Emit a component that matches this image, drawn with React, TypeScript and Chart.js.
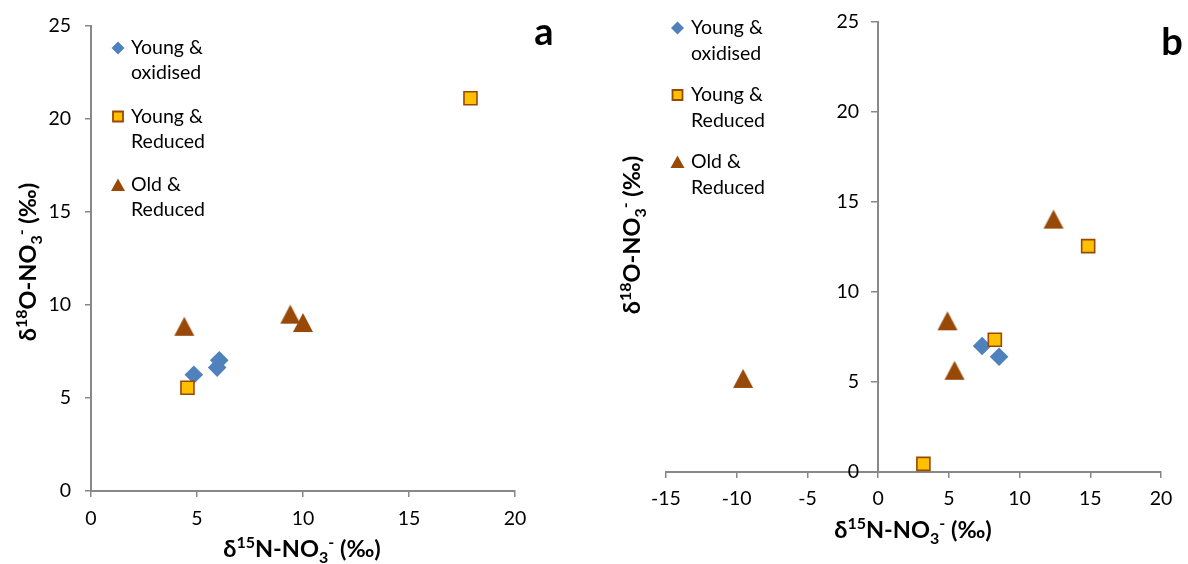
import React, { useEffect, useRef } from 'react';
import { Chart, registerables } from 'chart.js';

Chart.register(...registerables);

// Series names (two-line legend entries)
const SERIES_NAMES: string[][] = [
  ['Young &', 'oxidised'],
  ['Young &', 'Reduced'],
  ['Old &', 'Reduced'],
];

// Panel a: δ15N (x) and δ18O (y) per group
const aOxidisedX = [4.85, 5.95, 6.05];
const aOxidisedY = [6.25, 6.63, 7.02];
const aYoungReducedX = [4.55, 17.9];
const aYoungReducedY = [5.55, 21.1];
const aOldReducedX = [4.4, 9.4, 10.0];
const aOldReducedY = [8.85, 9.5, 9.05];

// Panel b
const bOxidisedX = [7.35, 8.55];
const bOxidisedY = [7.0, 6.4];
const bYoungReducedX = [8.25, 14.85, 3.2];
const bYoungReducedY = [7.35, 12.55, 0.45];
const bOldReducedX = [-9.55, 4.9, 5.4, 12.4];
const bOldReducedY = [5.2, 8.4, 5.65, 14.05];

// Axis ticks
const aXTicks = [0, 5, 10, 15, 20];
const bXTicks = [-15, -10, -5, 0, 5, 10, 15, 20];
const yTicks = [0, 5, 10, 15, 20, 25];

const BLUE = '#4F81BD';
const GOLD = '#FFC000';
const BROWN = '#984807';
const AXIS = '#888888';
const FONT = 'Lato, "Open Sans", sans-serif';
const TICK_SIZE = 19.5;
const LEGEND_SIZE = 19.5;
const TITLE_SIZE = 23.5;

type Part = { t: string; s?: 'sup' | 'sub' };
const X_TITLE: Part[] = [
  { t: 'δ' }, { t: '15', s: 'sup' }, { t: 'N-NO' }, { t: '3', s: 'sub' }, { t: '-', s: 'sup' }, { t: ' (‰)' },
];
const Y_TITLE: Part[] = [
  { t: 'δ' }, { t: '18', s: 'sup' }, { t: 'O-NO' }, { t: '3', s: 'sub' }, { t: '-', s: 'sup' }, { t: ' (‰)' },
];

const zip = (xs: number[], ys: number[]) => xs.map((x, i) => ({ x, y: ys[i] }));

// Triangle marker image, centred on its bounding box
function makeTriangle(w: number, h: number, color: string): HTMLCanvasElement {
  const c = document.createElement('canvas');
  c.width = w + 2;
  c.height = h + 2;
  const g = c.getContext('2d')!;
  g.fillStyle = color;
  g.beginPath();
  g.moveTo(1 + w / 2, 1);
  g.lineTo(1 + w, 1 + h);
  g.lineTo(1, 1 + h);
  g.closePath();
  g.fill();
  return c;
}

function drawRich(ctx: CanvasRenderingContext2D, parts: Part[], cx: number, cy: number, vertical: boolean, size: number) {
  ctx.save();
  ctx.translate(cx, cy);
  if (vertical) ctx.rotate(-Math.PI / 2);
  const fontFor = (p: Part) => `bold ${p.s ? Math.round(size * 0.66) : size}px ${FONT}`;
  const widths = parts.map((p) => {
    ctx.font = fontFor(p);
    return ctx.measureText(p.t).width;
  });
  const total = widths.reduce((a, b) => a + b, 0);
  let x = -total / 2;
  const base = size * 0.36;
  ctx.fillStyle = '#000';
  ctx.textAlign = 'left';
  ctx.textBaseline = 'alphabetic';
  parts.forEach((p, i) => {
    ctx.font = fontFor(p);
    const dy = p.s === 'sup' ? -size * 0.4 : p.s === 'sub' ? size * 0.22 : 0;
    ctx.fillText(p.t, x, base + dy);
    x += widths[i];
  });
  ctx.restore();
}

function drawLegendMarker(ctx: CanvasRenderingContext2D, kind: number, x: number, y: number) {
  ctx.save();
  ctx.beginPath();
  if (kind === 0) {
    const r = 6.5;
    ctx.moveTo(x - r, y);
    ctx.lineTo(x, y - r);
    ctx.lineTo(x + r, y);
    ctx.lineTo(x, y + r);
    ctx.closePath();
    ctx.fillStyle = BLUE;
    ctx.fill();
  } else if (kind === 1) {
    ctx.rect(x - 5, y - 5, 10, 10);
    ctx.fillStyle = GOLD;
    ctx.fill();
    ctx.strokeStyle = BROWN;
    ctx.lineWidth = 1.8;
    ctx.stroke();
  } else {
    ctx.moveTo(x, y - 6.5);
    ctx.lineTo(x + 7, y + 6);
    ctx.lineTo(x - 7, y + 6);
    ctx.closePath();
    ctx.fillStyle = BROWN;
    ctx.fill();
  }
  ctx.restore();
}

type PanelSpec = {
  letter: string;
  letterPos: [number, number];
  oxidised: { x: number; y: number }[];
  youngReduced: { x: number; y: number }[];
  oldReduced: { x: number; y: number }[];
  xTicks: number[];
  padding: { left: number; right: number; top: number; bottom: number };
  yWidth: number | null;
  xHeight: number;
  yAxisAtZero: boolean;
  xLabelPad: number;
  legend: { markerX: number; textX: number; y0: number; step: number; lineH: number };
  xTitlePos: [number, number];
  yTitlePos: [number, number];
};

function Panel({ spec }: { spec: PanelSpec }) {
  const ref = useRef<HTMLCanvasElement | null>(null);

  useEffect(() => {
    const canvas = ref.current;
    if (!canvas) return;
    const tri = makeTriangle(20, 19, BROWN);

    const decor = {
      id: 'decor',
      afterDraw(chart: Chart) {
        const ctx = chart.ctx;
        // y tick labels beside an axis that sits at x = 0
        if (spec.yAxisAtZero) {
          const ys = chart.scales.y;
          const x0 = chart.scales.x.getPixelForValue(0);
          ctx.save();
          ctx.font = `${TICK_SIZE}px ${FONT}`;
          ctx.fillStyle = '#000';
          ctx.textAlign = 'right';
          ctx.textBaseline = 'middle';
          ys.ticks.forEach((t) => ctx.fillText(String(t.value), x0 - 19, ys.getPixelForValue(t.value)));
          ctx.restore();
        }
        // legend
        const L = spec.legend;
        ctx.save();
        ctx.font = `${LEGEND_SIZE}px ${FONT}`;
        ctx.fillStyle = '#000';
        ctx.textAlign = 'left';
        ctx.textBaseline = 'middle';
        SERIES_NAMES.forEach((lines, i) => {
          const y = L.y0 + i * L.step;
          drawLegendMarker(ctx, i, L.markerX, y);
          lines.forEach((line, j) => ctx.fillText(line, L.textX, y + j * L.lineH));
        });
        ctx.restore();
        // axis titles
        drawRich(ctx, X_TITLE, spec.xTitlePos[0], spec.xTitlePos[1], false, TITLE_SIZE);
        drawRich(ctx, Y_TITLE, spec.yTitlePos[0], spec.yTitlePos[1], true, TITLE_SIZE);
        // panel letter
        ctx.save();
        ctx.font = `bold 38px ${FONT}`;
        ctx.fillStyle = '#000';
        ctx.textAlign = 'center';
        ctx.textBaseline = 'alphabetic';
        ctx.fillText(spec.letter, spec.letterPos[0], spec.letterPos[1]);
        ctx.restore();
      },
    };

    const tickFont = { family: FONT, size: TICK_SIZE };
    const chart = new Chart(canvas, {
      type: 'scatter',
      data: {
        datasets: [
          {
            label: SERIES_NAMES[0].join(' '),
            data: spec.oxidised,
            pointStyle: 'rectRot',
            pointRadius: 9.3,
            backgroundColor: BLUE,
            borderColor: BLUE,
            borderWidth: 0,
            order: 3,
          },
          {
            label: SERIES_NAMES[1].join(' '),
            data: spec.youngReduced,
            pointStyle: 'rect',
            pointRadius: 9.2,
            backgroundColor: GOLD,
            borderColor: BROWN,
            borderWidth: 1.6,
            order: 2,
          },
          {
            label: SERIES_NAMES[2].join(' '),
            data: spec.oldReduced,
            pointStyle: tri,
            pointRadius: 10,
            backgroundColor: BROWN,
            borderColor: BROWN,
            order: 1,
          },
        ],
      },
      options: {
        responsive: false,
        animation: false,
        events: [],
        layout: { padding: spec.padding },
        plugins: { legend: { display: false }, tooltip: { enabled: false }, title: { display: false } },
        scales: {
          x: {
            type: 'linear',
            min: spec.xTicks[0],
            max: spec.xTicks[spec.xTicks.length - 1],
            ticks: { stepSize: spec.xTicks[1] - spec.xTicks[0], font: tickFont, color: '#000', padding: spec.xLabelPad, maxRotation: 0 },
            grid: { drawOnChartArea: false, drawTicks: true, tickLength: 6, color: AXIS, lineWidth: 1.5 },
            border: { color: AXIS, width: 2 },
            afterFit: (s: any) => {
              s.height = spec.xHeight;
            },
          },
          y: {
            type: 'linear',
            position: spec.yAxisAtZero ? { x: 0 } : 'left',
            min: yTicks[0],
            max: yTicks[yTicks.length - 1],
            ticks: { display: !spec.yAxisAtZero, stepSize: yTicks[1] - yTicks[0], font: tickFont, color: '#000', padding: 14 },
            grid: { drawOnChartArea: false, drawTicks: true, tickLength: 6, color: AXIS, lineWidth: 1.5 },
            border: { color: AXIS, width: 2 },
            afterFit: (s: any) => {
              if (spec.yWidth !== null) s.width = spec.yWidth;
            },
          },
        },
      } as any,
      plugins: [decor],
    });
    return () => chart.destroy();
  }, [spec]);

  return <canvas ref={ref} width={594} height={564} style={{ display: 'block', width: 594, height: 564 }} />;
}

const PANEL_A: PanelSpec = {
  letter: 'a',
  letterPos: [544, 45],
  oxidised: zip(aOxidisedX, aOxidisedY),
  youngReduced: zip(aYoungReducedX, aYoungReducedY),
  oldReduced: zip(aOldReducedX, aOldReducedY),
  xTicks: aXTicks,
  padding: { left: 0, right: 79, top: 22, bottom: 0 },
  yWidth: 91,
  xHeight: 73,
  yAxisAtZero: false,
  xLabelPad: 10,
  legend: { markerX: 118, textX: 131, y0: 48, step: 68.5, lineH: 25 },
  xTitlePos: [302, 549],
  yTitlePos: [28, 262],
};

const PANEL_B: PanelSpec = {
  letter: 'b',
  letterPos: [578, 55],
  oxidised: zip(bOxidisedX, bOxidisedY),
  youngReduced: zip(bYoungReducedX, bYoungReducedY),
  oldReduced: zip(bOldReducedX, bOldReducedY),
  xTicks: bXTicks,
  padding: { left: 72, right: 27, top: 22, bottom: 0 },
  yWidth: null,
  xHeight: 92,
  yAxisAtZero: true,
  xLabelPad: 9,
  legend: { markerX: 83.5, textX: 97, y0: 28, step: 67, lineH: 25.5 },
  xTitlePos: [319, 530],
  yTitlePos: [38, 235],
};

export default function App() {
  return (
    <div style={{ position: 'absolute', left: 0, top: 0, width: 1188, height: 564, display: 'flex', background: '#fff' }}>
      <Panel spec={PANEL_A} />
      <Panel spec={PANEL_B} />
    </div>
  );
}
